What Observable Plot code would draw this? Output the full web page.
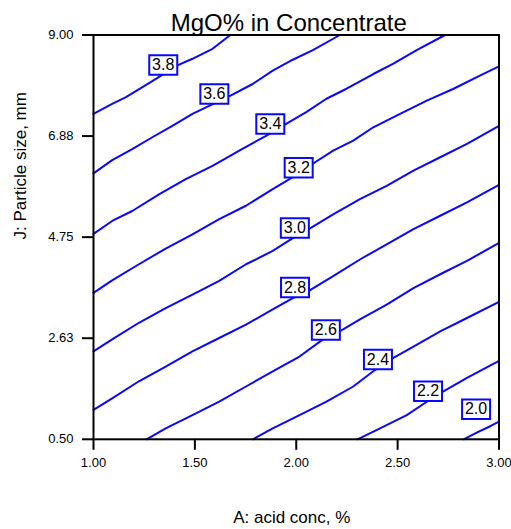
<!DOCTYPE html>
<html>
<head>
<meta charset="utf-8">
<script src="https://cdn.jsdelivr.net/npm/d3@7"></script>
<script src="https://cdn.jsdelivr.net/npm/@observablehq/plot@0.6"></script>
<style>
  html, body { margin: 0; padding: 0; background: #fff; }
  svg { display: block; }
  #chart g[aria-label$="tick label"] text { font-size: 13px !important; }
</style>
</head>
<body>
<div id="chart"></div>
<script>
// Contour levels of MgO% and the traced polyline of each level
// (x = acid concentration %, y = particle size mm).
const levels = [3.8, 3.6, 3.4, 3.2, 3.0, 2.8, 2.6, 2.4, 2.2, 2.0];

const line38 = [[1.000,7.34],[1.092,7.55],[1.158,7.69],[1.282,8.01],[1.414,8.36],[1.488,8.50],[1.587,8.71],[1.675,9.00]];
const line36 = [[1.000,6.09],[1.092,6.37],[1.191,6.60],[1.290,6.85],[1.389,7.09],[1.488,7.34],[1.678,7.73],[1.785,7.97],[1.884,8.25],[1.983,8.48],[2.082,8.68],[2.215,9.00]];
const line34 = [[1.000,4.82],[1.092,5.09],[1.191,5.30],[1.323,5.65],[1.455,5.97],[1.587,6.25],[1.719,6.57],[1.851,6.88],[1.950,7.13],[2.049,7.38],[2.149,7.66],[2.248,7.87],[2.380,8.18],[2.479,8.40],[2.594,8.68],[2.734,9.00]];
const line32 = [[1.000,3.58],[1.092,3.84],[1.224,4.18],[1.356,4.51],[1.488,4.81],[1.620,5.13],[1.752,5.41],[1.884,5.76],[1.983,6.01],[2.091,6.32],[2.182,6.57],[2.281,6.78],[2.380,7.06],[2.512,7.34],[2.644,7.62],[2.776,7.87],[2.908,8.15],[3.000,8.34]];
const line30 = [[1.000,2.35],[1.092,2.60],[1.224,2.95],[1.356,3.26],[1.488,3.54],[1.620,3.83],[1.752,4.18],[1.884,4.46],[1.983,4.73],[2.074,4.95],[2.182,5.23],[2.314,5.55],[2.446,5.83],[2.578,6.15],[2.710,6.43],[2.842,6.71],[3.000,7.09]];
const line28 = [[1.000,1.12],[1.092,1.36],[1.224,1.72],[1.356,2.03],[1.488,2.35],[1.620,2.63],[1.752,2.91],[1.884,3.23],[1.983,3.47],[2.074,3.65],[2.182,3.93],[2.314,4.28],[2.446,4.60],[2.578,4.92],[2.710,5.20],[2.842,5.48],[3.000,5.85]];
const line26 = [[1.262,0.50],[1.356,0.73],[1.488,1.01],[1.620,1.29],[1.752,1.61],[1.884,1.93],[2.016,2.24],[2.132,2.60],[2.231,2.81],[2.314,3.02],[2.446,3.33],[2.578,3.68],[2.710,3.97],[2.842,4.25],[3.000,4.63]];
const line24 = [[1.786,0.50],[1.884,0.73],[2.016,1.01],[2.149,1.29],[2.281,1.61],[2.380,1.93],[2.479,2.21],[2.578,2.45],[2.710,2.77],[2.842,3.05],[3.000,3.39]];
const line22 = [[2.302,0.50],[2.413,0.73],[2.545,1.01],[2.644,1.29],[2.726,1.51],[2.842,1.79],[3.000,2.15]];
const line20 = [[2.826,0.50],[2.890,0.64],[2.959,0.78],[3.000,0.87]];

const contourLines = [line38, line36, line34, line32, line30, line28, line26, line24, line22, line20];

// Where each level's boxed label sits
const labelX = [1.344, 1.596, 1.872, 2.012, 1.993, 1.994, 2.146, 2.403, 2.650, 2.887];
const labelY = [8.37, 7.76, 7.13, 6.21, 4.94, 3.69, 2.80, 2.18, 1.51, 1.13];

// Axis ticks
const xTicks = [1.0, 1.5, 2.0, 2.5, 3.0];
const xTickLabels = ["1.00", "1.50", "2.00", "2.50", "3.00"];
const yTicks = [0.5, 2.625, 4.75, 6.875, 9.0];
const yTickLabels = ["0.50", "2.63", "4.75", "6.88", "9.00"];

const titleText = "MgO% in Concentrate";
const xLabel = "A: acid conc, %";
const yLabel = "J: Particle size, mm";

const rows = contourLines.flatMap((pts, i) => pts.map(([x, y]) => ({level: levels[i], x, y})));
const labels = levels.map((level, i) => ({level, x: labelX[i], y: labelY[i]}));

const blue = "#0808ff";
// rectangular label box used as a dot symbol
const boxSymbol = {draw(ctx) { ctx.rect(-14, -9.75, 28, 19.5); }};

const chart = Plot.plot({
  width: 511,
  height: 529,
  marginLeft: 93,
  marginRight: 12.5,
  marginTop: 34.5,
  marginBottom: 90.2,
  style: {fontFamily: "'Liberation Sans', Arial, sans-serif", fontSize: "13px", background: "#fff", color: "#000"},
  x: {domain: [1, 3]},
  y: {domain: [0.5, 9]},
  marks: [
    Plot.line(rows, {x: "x", y: "y", z: "level", stroke: blue, strokeWidth: 2}),
    Plot.dot(labels, {x: "x", y: "y", symbol: boxSymbol, fill: "#fff", stroke: blue, strokeWidth: 2}),
    Plot.text(labels, {x: "x", y: "y", text: d => d.level.toFixed(1), fontSize: 16, fill: "#000", lineAnchor: "middle"}),
    Plot.frame({stroke: "#000", strokeWidth: 2}),
    Plot.axisX({
      ticks: xTicks, tickFormat: d => xTickLabels[xTicks.indexOf(d)],
      tickSize: 11, tickPadding: 7, strokeWidth: 2, fontSize: 13, label: null
    }),
    Plot.axisY({
      ticks: yTicks, tickFormat: d => yTickLabels[yTicks.indexOf(d)],
      tickSize: 11, tickPadding: 9, strokeWidth: 2, fontSize: 13, label: null
    }),
    Plot.text([titleText], {text: d => d, frameAnchor: "top", dx: -7.5, dy: -4, lineAnchor: "bottom", fontSize: 24, fill: "#000"}),
    Plot.text([xLabel], {text: d => d, frameAnchor: "bottom", dx: -4.5, dy: 84, lineAnchor: "bottom", fontSize: 17, fill: "#000"}),
    Plot.text([yLabel], {text: d => d, frameAnchor: "left", rotate: -90, dx: -73, dy: 2.3, lineAnchor: "middle", fontSize: 17, fill: "#000"})
  ]
});

document.getElementById("chart").append(chart);
</script>
</body>
</html>
